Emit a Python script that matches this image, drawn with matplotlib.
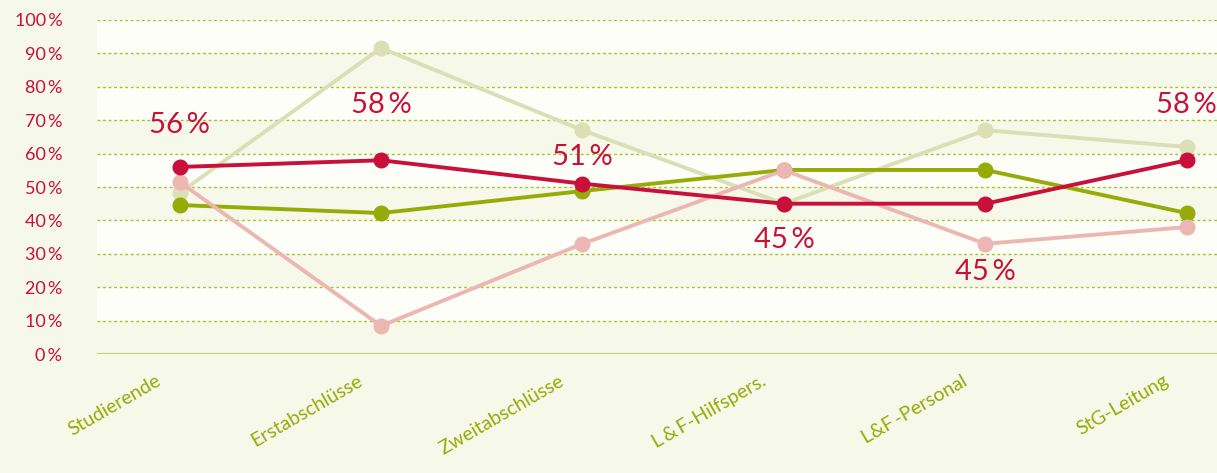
import matplotlib.pyplot as plt
from matplotlib.ticker import FixedLocator
from matplotlib.transforms import ScaledTranslation

categories = ["Studierende", "Erstabschlüsse", "Zweitabschlüsse",
              "L\u2009&\u2009F-Hilfspers.", "L&F\u2009-Personal", "StG-Leitung"]

# share in percent per group
frauen_gesamt = [56, 58, 51, 45, 45, 58]
gruen = [44.6, 42.2, 48.8, 55.1, 55.1, 42.2]
hellgruen = [48.2, 91.6, 67.0, 45.0, 67.0, 62.0]
rosa = [51.5, 8.4, 33.0, 55.0, 33.0, 38.0]

yticks = list(range(0, 101, 10))

RED = "#C8103A"
GREEN = "#95AB07"
LIGHT_GREEN = "#DADFB5"
PINK = "#ECB7B2"
BG = "#F6F8EA"
BAND = "#FDFEF8"

plt.rcParams["font.family"] = ["Lato", "DejaVu Sans"]

fig = plt.figure(figsize=(12.17, 4.73), dpi=100, facecolor=BG)
ax = fig.add_axes([97 / 1217, 1 - 354 / 473, 1 - 97 / 1217, (354 - 20) / 473])
ax.set_facecolor(BG)

x = list(range(len(categories)))

# alternating light bands between gridlines
for lo in range(10, 100, 20):
    ax.axhspan(lo, lo + 10, color=BAND, lw=0, zorder=0)
for y in yticks[1:]:
    ax.axhline(y, color="#A9C02B", lw=1.0, ls=(0, (2, 2)), zorder=0.5)
ax.axhline(0, color="#C2D06B", lw=1.5, zorder=0.5)

series = [
    (hellgruen, LIGHT_GREEN, 1),
    (gruen, GREEN, 2),
    (rosa, PINK, 3),
    (frauen_gesamt, RED, 4),
]
for vals, col, z in series:
    ax.plot(x, vals, color=col, lw=2.8, marker="o", ms=10.5, zorder=z,
            clip_on=False, solid_capstyle="round")

# value labels for the red series, offset in points
offsets = [30, 40, 19, -26, -49, 40]
for xi, v, off in zip(x, frauen_gesamt, offsets):
    ax.annotate(f"{v}\u2009%", (xi, v), xytext=(0, off), textcoords="offset points",
                ha="center", va="center", color=RED, fontsize=21, zorder=5)

ax.set_xlim(-0.41, 5.15)
ax.set_ylim(0, 100)
ax.yaxis.set_major_locator(FixedLocator(yticks))
ax.set_yticklabels([f"{t}\u2009%" for t in yticks])
ax.tick_params(axis="y", length=0, pad=25, labelcolor=RED, labelsize=13)

ax.set_xticks(x)
ax.set_xticklabels(categories, rotation=30, ha="right", rotation_mode="anchor")
ax.tick_params(axis="x", length=0, pad=16, labelcolor=GREEN, labelsize=14)
shift = ScaledTranslation(-24 / 100, 4 / 100, fig.dpi_scale_trans)
for lbl in ax.get_xticklabels():
    lbl.set_transform(lbl.get_transform() + shift)

for s in ax.spines.values():
    s.set_visible(False)

fig.savefig("out.png", dpi=100, facecolor=BG)
